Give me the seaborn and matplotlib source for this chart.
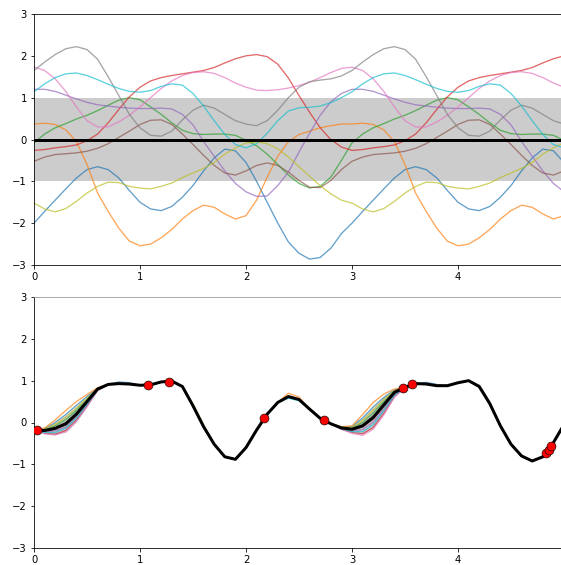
import numpy as np
import pandas as pd
import matplotlib
matplotlib.use("Agg")
import matplotlib.pyplot as plt
import seaborn as sns

# ---------------------------------------------------------------------------
# Data (at x = 0.0, 0.1, ..., 5.0)
# ---------------------------------------------------------------------------

X_GRID = np.round(np.arange(0, 5.01, 0.1), 1)
SAMPLE_NAMES = ["s0", "s1", "s2", "s3", "s4", "s5", "s6", "s7", "s8", "s9"]

# prior samples (tab10 order)
prior_blue = [-2.0, -1.72, -1.45, -1.18, -0.92, -0.72, -0.65, -0.72, -0.92, -1.22,
              -1.5, -1.66, -1.7, -1.6, -1.38, -1.1, -0.75, -0.44, -0.23, -0.27,
              -0.55, -1.0, -1.5, -2.0, -2.45, -2.72, -2.86, -2.82, -2.6, -2.25,
              -2.0, -1.72, -1.45, -1.18, -0.92, -0.72, -0.65, -0.72, -0.92, -1.22,
              -1.5, -1.66, -1.7, -1.6, -1.38, -1.1, -0.75, -0.44, -0.23, -0.27, -0.55]
prior_orange = [0.37, 0.39, 0.36, 0.23, -0.05, -0.6, -1.28, -1.72, -2.12, -2.43,
                -2.54, -2.5, -2.35, -2.15, -1.9, -1.7, -1.57, -1.62, -1.78, -1.9,
                -1.82, -1.45, -0.9, -0.4, -0.05, 0.12, 0.2, 0.28, 0.33, 0.37,
                0.37, 0.39, 0.36, 0.23, -0.05, -0.6, -1.28, -1.72, -2.12, -2.43,
                -2.54, -2.5, -2.35, -2.15, -1.9, -1.7, -1.57, -1.62, -1.78, -1.9, -1.82]
prior_green = [-0.08, 0.13, 0.28, 0.38, 0.49, 0.58, 0.69, 0.82, 0.94, 1.0,
               0.95, 0.78, 0.6, 0.4, 0.22, 0.14, 0.12, 0.13, 0.13, 0.1,
               -0.02, -0.15, -0.35, -0.6, -0.85, -1.05, -1.16, -1.12, -0.9, -0.5,
               -0.08, 0.13, 0.28, 0.38, 0.49, 0.58, 0.69, 0.82, 0.94, 1.0,
               0.95, 0.78, 0.6, 0.4, 0.22, 0.14, 0.12, 0.13, 0.13, 0.1, -0.02]
prior_red = [-0.26, -0.24, -0.2, -0.17, -0.13, -0.03, 0.13, 0.4, 0.72, 1.02,
             1.25, 1.4, 1.48, 1.53, 1.57, 1.61, 1.65, 1.72, 1.83, 1.93,
             2.0, 2.03, 1.98, 1.8, 1.47, 1.05, 0.65, 0.28, 0.0, -0.18,
             -0.26, -0.24, -0.2, -0.17, -0.13, -0.03, 0.13, 0.4, 0.72, 1.02,
             1.25, 1.4, 1.48, 1.53, 1.57, 1.61, 1.65, 1.72, 1.83, 1.93, 2.0]
prior_purple = [1.2, 1.2, 1.15, 1.06, 0.97, 0.89, 0.83, 0.8, 0.77, 0.75,
                0.74, 0.74, 0.75, 0.73, 0.6, 0.35, -0.05, -0.4, -0.75, -1.05,
                -1.25, -1.36, -1.35, -1.1, -0.78, -0.3, 0.15, 0.58, 0.9, 1.1,
                1.2, 1.2, 1.15, 1.06, 0.97, 0.89, 0.83, 0.8, 0.77, 0.75,
                0.74, 0.74, 0.75, 0.73, 0.6, 0.35, -0.05, -0.4, -0.75, -1.05, -1.25]
prior_brown = [-0.52, -0.42, -0.36, -0.34, -0.32, -0.28, -0.21, -0.1, 0.05, 0.2,
               0.36, 0.46, 0.47, 0.36, 0.13, -0.12, -0.38, -0.62, -0.8, -0.85,
               -0.75, -0.62, -0.56, -0.62, -0.78, -0.98, -1.14, -1.15, -0.98, -0.72,
               -0.52, -0.42, -0.36, -0.34, -0.32, -0.28, -0.21, -0.1, 0.05, 0.2,
               0.36, 0.46, 0.47, 0.36, 0.13, -0.12, -0.38, -0.62, -0.8, -0.85, -0.75]
prior_pink = [1.73, 1.65, 1.45, 1.15, 0.78, 0.45, 0.3, 0.3, 0.42, 0.58,
              0.78, 1.0, 1.22, 1.4, 1.53, 1.6, 1.62, 1.58, 1.48, 1.35,
              1.25, 1.18, 1.17, 1.19, 1.23, 1.29, 1.37, 1.48, 1.6, 1.7,
              1.73, 1.65, 1.45, 1.15, 0.78, 0.45, 0.3, 0.3, 0.42, 0.58,
              0.78, 1.0, 1.22, 1.4, 1.53, 1.6, 1.62, 1.58, 1.48, 1.35, 1.25]
prior_gray = [1.65, 1.85, 2.03, 2.17, 2.22, 2.15, 1.92, 1.5, 1.05, 0.6,
              0.28, 0.1, 0.08, 0.2, 0.47, 0.7, 0.82, 0.75, 0.6, 0.45,
              0.37, 0.33, 0.45, 0.7, 1.0, 1.25, 1.38, 1.42, 1.45, 1.52,
              1.65, 1.85, 2.03, 2.17, 2.22, 2.15, 1.92, 1.5, 1.05, 0.6,
              0.28, 0.1, 0.08, 0.2, 0.47, 0.7, 0.82, 0.75, 0.6, 0.45, 0.37]
prior_olive = [-1.52, -1.66, -1.73, -1.65, -1.48, -1.28, -1.12, -1.02, -1.03, -1.12,
               -1.16, -1.18, -1.12, -1.04, -0.91, -0.8, -0.69, -0.55, -0.35, -0.2,
               -0.08, -0.06, -0.1, -0.22, -0.42, -0.65, -0.88, -1.1, -1.3, -1.45,
               -1.52, -1.66, -1.73, -1.65, -1.48, -1.28, -1.12, -1.02, -1.03, -1.12,
               -1.16, -1.18, -1.12, -1.04, -0.91, -0.8, -0.69, -0.55, -0.35, -0.2, -0.08]
prior_cyan = [1.14, 1.33, 1.48, 1.57, 1.59, 1.53, 1.43, 1.32, 1.22, 1.15,
              1.13, 1.17, 1.27, 1.33, 1.3, 1.1, 0.8, 0.45, 0.12, -0.12,
              -0.2, -0.1, 0.15, 0.45, 0.68, 0.76, 0.77, 0.8, 0.88, 1.0,
              1.14, 1.33, 1.48, 1.57, 1.59, 1.53, 1.43, 1.32, 1.22, 1.15,
              1.13, 1.17, 1.27, 1.33, 1.3, 1.1, 0.8, 0.45, 0.12, -0.12, -0.2]

# posterior mean and std
post_mean = [-0.19, -0.19, -0.14, -0.03, 0.2, 0.5, 0.8, 0.91, 0.93, 0.92,
             0.89, 0.9, 0.97, 0.99, 0.86, 0.4, -0.1, -0.52, -0.82, -0.88,
             -0.6, -0.18, 0.2, 0.48, 0.62, 0.55, 0.32, 0.1, -0.03, -0.13,
             -0.16, -0.08, 0.12, 0.42, 0.72, 0.84, 0.93, 0.92, 0.88, 0.88,
             0.95, 1.0, 0.86, 0.45, -0.08, -0.52, -0.8, -0.92, -0.82, -0.48, -0.05]
post_std = [0.0, 0.05, 0.14, 0.2, 0.19, 0.12, 0.03, 0.01, 0.02, 0.02,
            0.01, 0.0, 0.0, 0.01, 0.02, 0.02, 0.02, 0.01, 0.01, 0.01,
            0.01, 0.01, 0.0, 0.01, 0.03, 0.02, 0.01, 0.0, 0.01, 0.02,
            0.07, 0.19, 0.24, 0.19, 0.07, 0.0, 0.0, 0.01, 0.02, 0.01,
            0.01, 0.01, 0.02, 0.02, 0.02, 0.01, 0.01, 0.01, 0.0, 0.0, 0.01]

# posterior samples as offsets from the mean (tab10 order)
post_dev = [
    [0, 0.04, 0.14, 0.22, 0.21, 0.12, 0.02, 0, 0.04, 0.03,
     0, 0, 0, 0, 0, 0, 0, 0, 0, 0,
     0, 0, 0, 0, 0, 0, 0, 0, 0, 0.02,
     0.06, 0.19, 0.25, 0.18, 0.06, 0, 0, 0.04, 0.03, 0,
     0, 0, 0.03, 0.04, 0, 0, 0, 0, 0, 0, 0],
    [0, 0.06, 0.2, 0.32, 0.3, 0.17, 0.03, 0, 0, 0,
     0, 0, 0, 0, 0, 0, 0, 0, 0, 0,
     0, 0, 0, 0, 0.08, 0.06, 0, 0, 0, 0.03,
     0.08, 0.27, 0.36, 0.26, 0.08, 0, 0, 0, 0, 0,
     0, 0, 0, 0, 0, 0, 0, 0, 0, 0, 0],
    [0, 0.02, 0.06, 0.1, 0.09, 0.05, 0.01, 0, 0, 0,
     0, 0, 0, 0, 0, 0, 0, 0, 0, 0,
     0, 0, 0, 0, 0, 0, 0, 0, 0, 0.01,
     0.02, 0.08, 0.11, 0.08, 0.02, 0, 0, 0, 0, 0,
     0, 0, 0, 0, 0, 0, 0, 0, 0, 0, 0],
    [0, -0.07, -0.14, -0.16, -0.14, -0.1, -0.03, 0, 0, 0,
     0, 0, 0, 0, 0, 0, 0, 0, 0, 0,
     0, 0, 0, 0, 0, 0, 0, 0, 0, -0.03,
     -0.08, -0.19, -0.24, -0.2, -0.1, 0, 0, 0, 0, 0,
     0, 0, 0, 0, 0, 0, 0, 0, 0, 0, 0],
    [0, -0.03, -0.06, -0.08, -0.07, -0.05, -0.02, 0, 0, 0,
     0, 0, 0, 0, 0, 0, 0, 0, 0, 0,
     0, 0, 0, 0, 0, 0, 0, 0, 0, -0.01,
     -0.04, -0.09, -0.11, -0.1, -0.05, 0, 0, 0, 0, 0,
     0, 0, 0, 0, 0, 0, 0, 0, 0, 0, 0],
    [0, -0.01, -0.02, -0.03, -0.03, -0.02, 0, 0, 0, 0,
     0, 0, 0, 0, 0, 0, 0, 0, 0, 0,
     0, 0, 0, 0, 0, 0, 0, 0, 0, 0,
     -0.02, -0.03, -0.04, -0.04, -0.02, 0, 0, 0, 0, 0,
     0, 0, 0, 0, 0, 0, 0, 0, 0, 0, 0],
    [0, -0.08, -0.16, -0.19, -0.17, -0.12, -0.04, 0, 0, 0,
     0, 0, 0, 0, 0, 0, 0, 0, 0, 0,
     0, 0, 0, 0, 0, 0, 0, 0, 0, -0.03,
     -0.1, -0.23, -0.28, -0.24, -0.12, 0, 0, 0, 0, 0,
     0, 0, 0, 0, 0, 0, 0, 0, 0, 0, 0],
    [0, 0.01, 0.02, 0.03, 0.03, 0.02, 0, 0, 0, 0,
     0, 0, 0, 0, 0, 0, 0, 0, 0, 0,
     0, 0, 0, 0, 0, 0, 0, 0, 0, 0,
     0.01, 0.03, 0.04, 0.03, 0.01, 0, 0, 0, 0, 0,
     0, 0, 0, 0, 0, 0, 0, 0, 0, 0, 0],
    [0, 0.03, 0.1, 0.16, 0.15, 0.08, 0.01, 0, 0, 0,
     0, 0, 0, 0, 0, 0.04, 0.04, 0, 0, 0,
     0, 0, 0, 0, 0, 0, 0, 0, 0, 0.02,
     0.04, 0.13, 0.18, 0.13, 0.04, 0, 0, 0, 0, 0,
     0, 0, 0, 0, 0, 0, 0, 0, 0, 0, 0],
    [0, -0.05, -0.1, -0.11, -0.1, -0.07, -0.02, 0, 0, 0,
     0, 0, 0, 0, 0, -0.03, -0.03, 0, 0, 0,
     0, 0, 0, 0, -0.04, -0.03, 0, 0, 0, -0.02,
     -0.06, -0.14, -0.17, -0.14, -0.07, 0, 0, 0, 0, 0,
     0, 0, 0, 0, 0, 0, 0, 0, 0, 0, 0],
]

# training points
train_x = [0.03, 1.08, 1.27, 2.17, 2.74, 3.48, 3.57, 4.83, 4.855, 4.88]
train_y = [-0.18, 0.90, 0.98, 0.10, 0.056, 0.82, 0.92, -0.74, -0.66, -0.57]

W, H, DPI = 561, 565, 72


def long_frame(series):
    return pd.DataFrame({
        "x": np.tile(X_GRID, len(series)),
        "y": np.concatenate([np.asarray(s, dtype=float) for s in series]),
        "sample": np.repeat(SAMPLE_NAMES[:len(series)], len(X_GRID)),
    })


def style_axes(ax):
    ax.set_xlim(0, 5)
    ax.set_ylim(-3, 3)
    ax.set_xticks([0, 1, 2, 3, 4, 5])
    ax.set_yticks([-3, -2, -1, 0, 1, 2, 3])
    ax.set_xlabel("")
    ax.set_ylabel("")


def main():
    fig = plt.figure(figsize=(W / DPI, H / DPI), dpi=DPI)
    ax1 = fig.add_axes([34 / W, 1 - 265 / H, 530 / W, 251 / H])
    ax2 = fig.add_axes([34 / W, 1 - 548 / H, 530 / W, 251 / H])

    # ---- prior --------------------------------------------------------------
    prior = [prior_blue, prior_orange, prior_green, prior_red, prior_purple,
             prior_brown, prior_pink, prior_gray, prior_olive, prior_cyan]
    sns.lineplot(data=long_frame(prior), x="x", y="y", hue="sample",
                 palette="tab10", estimator=None, sort=False, lw=1.3,
                 alpha=0.7, legend=False, ax=ax1)
    ax1.plot(X_GRID, np.zeros_like(X_GRID), color="k", lw=3)
    ax1.fill_between(X_GRID, -1, 1, color="k", alpha=0.2, lw=0)
    style_axes(ax1)

    # ---- posterior ----------------------------------------------------------
    mean = np.asarray(post_mean)
    std = np.asarray(post_std)
    post = [mean + np.asarray(d) for d in post_dev]
    sns.lineplot(data=long_frame(post), x="x", y="y", hue="sample",
                 palette="tab10", estimator=None, sort=False, lw=1.3,
                 alpha=0.7, legend=False, ax=ax2)
    ax2.plot(X_GRID, mean, color="k", lw=3, zorder=9)
    ax2.fill_between(X_GRID, mean - std, mean + std, color="k", alpha=0.2, lw=0)
    sns.scatterplot(x=train_x, y=train_y, color="red", edgecolor="k",
                    s=80, linewidth=0.6, zorder=10, ax=ax2, legend=False)
    style_axes(ax2)
    ax2.spines["top"].set_color("0.6")

    fig.savefig("out.png", dpi=DPI)


if __name__ == "__main__":
    main()
